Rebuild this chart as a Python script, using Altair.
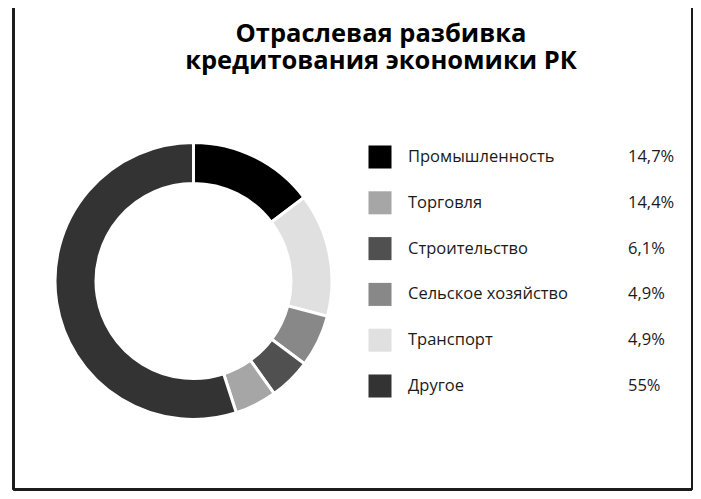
import altair as alt
import pandas as pd

title_lines = ["Отраслевая разбивка", "кредитования экономики РК"]
categories = ["Промышленность", "Торговля", "Строительство",
              "Сельское хозяйство", "Транспорт", "Другое"]
values = [14.7, 14.4, 6.1, 4.9, 4.9, 55.0]
value_labels = ["14,7%", "14,4%", "6,1%", "4,9%", "4,9%", "55%"]

pie_colors = ["#000000", "#e0e0e0", "#888888", "#505050", "#a6a6a6", "#333333"]
legend_colors = ["#000000", "#a6a6a6", "#505050", "#888888", "#e0e0e0", "#333333"]

df = pd.DataFrame({
    "cat": categories,
    "value": values,
    "label": value_labels,
    "idx": list(range(len(categories))),
})
title_df = pd.DataFrame({"t": title_lines, "line": list(range(len(title_lines)))})

FONT = "Open Sans"

base = alt.Chart(df)

pie = base.mark_arc(outerRadius=138.5, innerRadius=97.5, stroke="white", strokeWidth=3).encode(
    theta=alt.Theta("value:Q", stack=True),
    order=alt.Order("idx:Q"),
    color=alt.Color("cat:N", scale=alt.Scale(domain=categories, range=pie_colors), legend=None),
    x=alt.value(185.5),
    y=alt.value(273),
)

yscale = alt.Scale(type="point", domain=categories, range=[149, 378], padding=0)

squares = base.mark_square(size=530, opacity=1, filled=True).encode(
    x=alt.value(372),
    y=alt.Y("cat:N", scale=yscale, axis=None),
    color=alt.Color("cat:N", scale=alt.Scale(domain=categories, range=legend_colors), legend=None),
)

names = base.mark_text(align="left", baseline="middle", font=FONT, fontSize=16.5, color="#1a1a1a").encode(
    x=alt.value(400),
    y=alt.Y("cat:N", scale=yscale, axis=None),
    text="cat:N",
)

pcts = base.mark_text(align="left", baseline="middle", font=FONT, fontSize=16.5, color="#1a1a1a").encode(
    x=alt.value(620),
    y=alt.Y("cat:N", scale=yscale, axis=None),
    text="label:N",
)

title_base = alt.Chart(title_df).mark_text(
    align="center", baseline="alphabetic", font=FONT, fontSize=25.5, fontWeight="bold", color="#000000",
)
title1 = title_base.transform_filter("datum.line == 0").encode(
    x=alt.value(373), y=alt.value(34), text="t:N")
title2 = title_base.transform_filter("datum.line == 1").encode(
    x=alt.value(373), y=alt.value(61), text="t:N")

BOTTOM = 481.5
RIGHT = 684
border_left = base.mark_rule(color="#1a1a1a", strokeWidth=2).encode(
    x=alt.value(5.5), y=alt.value(0), y2=alt.value(BOTTOM))
border_right = base.mark_rule(color="#1a1a1a", strokeWidth=2).encode(
    x=alt.value(RIGHT), y=alt.value(0), y2=alt.value(BOTTOM))
border_bottom = base.mark_rule(color="#1a1a1a", strokeWidth=2).encode(
    x=alt.value(5.5), x2=alt.value(RIGHT), y=alt.value(BOTTOM))

chart = alt.layer(
    pie, squares, names, pcts, title1, title2, border_left, border_right, border_bottom
).resolve_scale(color="independent").properties(
    width=685, height=483, padding=0, autosize=alt.AutoSizeParams(type="none"),
    background="white",
).configure_view(stroke=None)

chart.save("out.html", embed_options={"renderer": "svg", "actions": False})
